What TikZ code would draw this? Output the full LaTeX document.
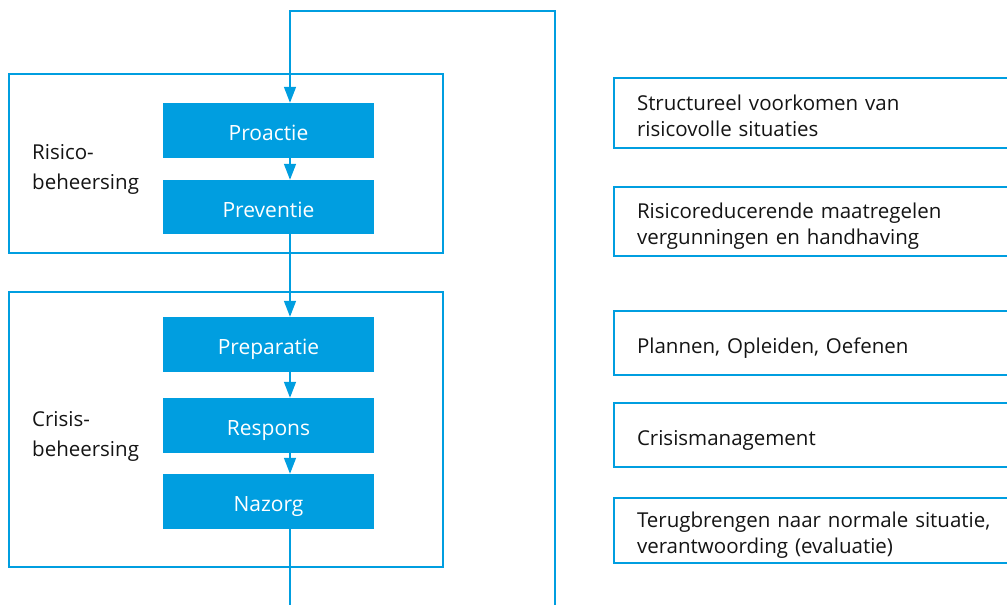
\documentclass[tikz,border=0pt]{standalone}
\usepackage{fontspec}
\setmainfont{Open Sans}
\usepackage{tikz}
\usetikzlibrary{arrows.meta}
\definecolor{rblauw}{RGB}{0,158,224}
\definecolor{tekst}{RGB}{20,20,20}

\begin{document}
\begin{tikzpicture}[x=1pt,y=-1pt,
	fase/.style={rectangle,fill=rblauw,text=white,minimum width=211pt,minimum height=55pt,inner sep=0pt,text height=20pt,text depth=0pt,font=\fontsize{21}{25}\selectfont},
	groep/.style={rectangle,draw=rblauw,line width=2.5pt,minimum width=434pt},
	label/.style={anchor=west,align=left,text=tekst,inner sep=0pt,text width=150pt,text height=15pt,text depth=30pt,font=\fontsize{20.5}{30}\selectfont},
	uitleg/.style={rectangle,draw=rblauw,line width=2pt,anchor=west,text width=361pt,align=left,inner xsep=23pt,inner ysep=0pt,text height=20pt,text depth=0pt,text=tekst,font=\fontsize{20.5}{26}\selectfont},
	lijn/.style={draw=rblauw,line width=1.5pt},
	pijl/.style={lijn,-{Triangle[length=16pt,width=12pt]}}]
	\useasboundingbox (0,0) rectangle (1007,605);
	\node[groep,minimum height=179pt] (risico) at (226,163.5) {};
	\node[groep,minimum height=275pt] (crisis) at (226,429.5) {};
	\node[label] (risicolabel) at (32,166.5) {Risico-\\beheersing};
	\node[label] (crisislabel) at (32,433.5) {Crisis-\\beheersing};
	%
	\node[fase] (proactie) at (268.5,130.5) {Proactie};
	\node[fase,minimum height=54pt] (preventie) at (268.5,207) {Preventie};
	\node[fase] (preparatie) at (268.5,344.5) {Preparatie};
	\node[fase] (respons) at (268.5,425.5) {Respons};
	\node[fase] (nazorg) at (268.5,501.5) {Nazorg};
	%
	\node[uitleg,minimum height=70pt,text depth=26pt] (u1) at (613,113) {Structureel voorkomen van\\risicovolle situaties};
	\node[uitleg,minimum height=69pt,text depth=26pt] (u2) at (613,221.5) {Risicoreducerende maatregelen\\vergunningen en handhaving};
	\node[uitleg,minimum height=64pt] (u3) at (613,343) {Plannen, Opleiden, Oefenen};
	\node[uitleg,minimum height=64pt] (u4) at (613,435) {Crisismanagement};
	\node[uitleg,minimum height=65pt,text depth=26pt] (u5) at (613,530.5) {Terugbrengen naar normale situatie,\\verantwoording (evaluatie)};
	%
	\coordinate (hoek) at (290,11);
	\coordinate (uit) at (290,605);
	\coordinate (terug) at (555,605);
	\draw[pijl] (terug) |- (hoek) -- (proactie.north -| hoek);
	\draw[pijl] (proactie.south -| hoek) -- (preventie.north -| hoek);
	\draw[pijl] (preventie.south -| hoek) -- (preparatie.north -| hoek);
	\draw[pijl] (preparatie.south -| hoek) -- (respons.north -| hoek);
	\draw[pijl] (respons.south -| hoek) -- (nazorg.north -| hoek);
	\draw[lijn] (nazorg.south -| uit) -- (uit);
\end{tikzpicture}
\end{document}
